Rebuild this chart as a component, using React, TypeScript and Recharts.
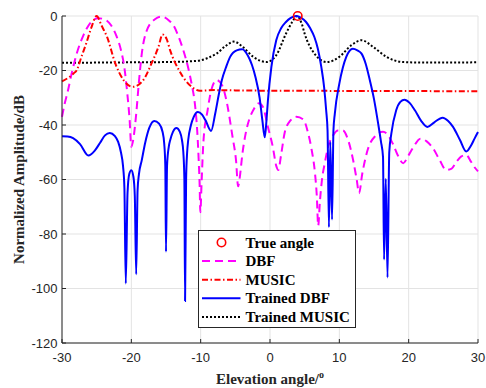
import { ComposedChart, Line, XAxis, YAxis, CartesianGrid, Legend } from 'recharts';

// angles in degrees, values in dB
const xTicks = [-30, -20, -10, 0, 10, 20, 30];
const yTicks = [-120, -100, -80, -60, -40, -20, 0];

const trueAngle = [4];
const trueValue = [0];

const dbfAngles = [-30, -29.6, -29.2, -28.6, -27.9, -26.9, -25.9, -24.8, -23.8, -22.9, -22.2, -21.5, -21, -20.6, -20.25, -20, -19.7, -19.3, -18.9, -18.5, -17.8, -16.6, -15.6, -14.5, -13.9, -13.2, -12.5, -11.8, -11.3, -10.8, -10.5, -10.3, -10.15, -10.05, -9.85, -9.6, -9.0, -8.5, -7.7, -6.9, -6.4, -5.4, -4.9, -4.6, -4.3, -4.0, -3.5, -3.0, -2.3, -1.6, -1.0, -0.3, 0.4, 0.9, 1.2, 1.6, 2.1, 2.9, 3.8, 4.8, 5.5, 6.0, 6.5, 6.75, 6.95, 7.2, 7.5, 7.9, 8.5, 9.1, 9.8, 10.5, 11.2, 12.0, 12.5, 12.85, 13.3, 14.1, 15.2, 16.3, 17.1, 17.7, 18.5, 19.2, 19.9, 20.6, 21.7, 22.6, 23.5, 24.5, 25.4, 26.2, 26.9, 27.6, 28.3, 29, 29.5, 30];
const dbfValues = [-37, -32, -28, -21, -14, -7, -2.5, -0.8, -1.3, -3.5, -7, -12.5, -19, -28, -38, -48, -45, -36, -24, -14, -5.5, -1.2, -0.2, -1.8, -3.5, -7.5, -12.6, -19, -25, -33, -42, -52, -62, -72, -60, -46, -34.6, -27.5, -23.5, -25.5, -29.7, -44.4, -53, -62.5, -58, -51, -43, -38, -34, -32, -33.5, -40.7, -48, -55, -56.5, -51, -43, -38.5, -37, -38, -43, -49, -58, -66, -77, -68, -60, -54, -47, -43.8, -42, -42, -45, -53, -60, -65, -58, -49, -44, -42.5, -44, -46.8, -51.5, -54, -51.5, -48.5, -45, -46, -48.5, -53, -56.5, -56, -53.5, -51.5, -51, -53.5, -55.5, -57];

const musicAngles = [-30, -29, -28.3, -27.9, -27.2, -26.5, -25.8, -25.0, -24.3, -23.5, -22.3, -21.1, -19.8, -18.3, -17.1, -16.1, -15.5, -14.9, -14.4, -13, -11.3, -10.1, -8, -5, 0, 5, 10, 15, 20, 25, 30];
const musicValues = [-24, -22.5, -21, -20, -15, -10, -4.5, 0, -3.5, -7.7, -17.5, -23.6, -26, -23.6, -17.5, -11.4, -6.8, -8.5, -12.6, -20.5, -26, -27.4, -27.2, -27.3, -27.4, -27.4, -27.5, -27.5, -27.5, -27.6, -27.6];

const tdbfAngles = [-30, -29.2, -28.4, -27.4, -26.2, -25.3, -24.5, -23.8, -23.1, -22.4, -21.9, -21.5, -21.2, -21.0, -20.8, -20.55, -20.3, -20.0, -19.7, -19.5, -19.3, -19.1, -18.9, -18.5, -18.0, -17.4, -16.7, -16.0, -15.5, -15.25, -15.1, -15.0, -14.85, -14.6, -14.4, -14, -13.5, -13.0, -12.7, -12.5, -12.35, -12.25, -12.1, -11.95, -11.8, -11.4, -11.0, -10.4, -9.8, -9.3, -8.5, -7.9, -7.4, -6.95, -6.3, -5.75, -4.8, -4.0, -3.2, -2.6, -2.1, -1.5, -1.1, -0.75, -0.5, -0.3, 0.2, 0.9, 1.6, 2.3, 3.0, 3.8, 4.5, 5.2, 5.8, 6.4, 6.9, 7.4, 7.8, 8.1, 8.3, 8.5, 8.7, 8.95, 9.15, 9.35, 10.0, 10.5, 11.0, 11.95, 12.6, 13.2, 13.8, 14.4, 15.0, 15.6, 16.0, 16.3, 16.45, 16.7, 16.95, 17.2, 17.5, 18.2, 18.8, 19.4, 20.1, 20.9, 21.8, 22.7, 23.7, 24.9, 25.7, 26.4, 27.4, 28.3, 29.0, 29.5, 30];
const tdbfValues = [-44.1, -44.2, -44.8, -47, -51.2, -49.5, -46.5, -43.8, -42.9, -44, -46.2, -50, -55, -63, -98.2, -65, -58, -56.6, -59, -66, -94.8, -64, -58, -53, -46.5, -41, -38.5, -39.5, -42.5, -47, -55, -86.5, -55, -48, -45.6, -42.5, -41.1, -42.5, -45.5, -50, -60, -104.6, -60, -50, -45.6, -40, -37, -35.2, -36.2, -38.3, -42.2, -35.8, -29, -23.6, -18.5, -15, -12.6, -12.2, -14.5, -18, -22.4, -30, -38.3, -44.5, -38, -31, -18.7, -8.9, -4.5, -2.2, -0.7, 0, -0.7, -2.2, -4.5, -7.7, -12, -18.7, -26, -34.6, -42, -77.5, -46.2, -74.7, -42, -35.8, -24.8, -19, -15, -12, -12.6, -13.8, -17.5, -23.6, -30.5, -39.5, -46, -51.7, -89.4, -59.7, -96, -50, -43.2, -34.6, -31.5, -30.7, -31.8, -34.6, -38.5, -40.7, -39, -37.3, -38.5, -40.7, -45.5, -49.7, -47.5, -45, -42.6];

const tmusicAngles = [-30, -25, -20, -15, -12, -10.1, -8.8, -7.7, -6.5, -5.2, -3.9, -2.4, -0.5, 0.9, 2.3, 3.2, 3.9, 4.6, 5.0, 6.4, 8.2, 10, 11.7, 13.2, 14.9, 16.8, 19.2, 22.6, 30];
const tmusicValues = [-17.2, -17.1, -17, -16.9, -16.7, -16.3, -15.2, -13.8, -11.2, -9.4, -11.4, -15, -16.9, -14.4, -6.5, -2.2, 0, -3, -6.5, -13.8, -16.9, -15, -10.8, -8.9, -11.4, -15, -16.9, -17.1, -17];

const toPoints = (xs: number[], ys: number[]) => xs.map((x, i) => ({ angle: x, value: ys[i] }));

const AXIS = '#262626';
const TICK_FONT = '"Liberation Sans", Arial, sans-serif';
const SERIF = '"Liberation Serif", "Times New Roman", serif';

const BottomTick = (props: any) => {
  const { x, y, payload } = props;
  return (
    <g>
      <line x1={x} x2={x} y1={y} y2={y - 4} stroke={AXIS} />
      <text x={x} y={y} dy={19} textAnchor="middle" fontSize={13} fill={AXIS} fontFamily={TICK_FONT}>
        {payload.value}
      </text>
    </g>
  );
};

const TopTick = (props: any) => {
  const { x, y } = props;
  return <line x1={x} x2={x} y1={y} y2={y + 4} stroke={AXIS} />;
};

const LeftTick = (props: any) => {
  const { x, y, payload } = props;
  return (
    <g>
      <line x1={x} x2={x + 4} y1={y} y2={y} stroke={AXIS} />
      <text x={x - 4.5} y={y} dy={4.5} textAnchor="end" fontSize={13} fill={AXIS} fontFamily={TICK_FONT}>
        {payload.value}
      </text>
    </g>
  );
};

const RightTick = (props: any) => {
  const { x, y } = props;
  return <line x1={x} x2={x - 4} y1={y} y2={y} stroke={AXIS} />;
};

const YTitle = (props: any) => {
  const { viewBox } = props;
  const cx = 19;
  const cy = viewBox.y + viewBox.height / 2;
  return (
    <text x={cx} y={cy} transform={`rotate(-90, ${cx}, ${cy})`} textAnchor="middle" dominantBaseline="central"
      fontSize={15} fontWeight="bold" fontFamily={SERIF} fill={AXIS}>
      Normalized Amplitude/dB
    </text>
  );
};

const XTitle = (props: any) => {
  const { viewBox } = props;
  const cx = viewBox.x + viewBox.width / 2;
  return (
    <text x={cx} y={384} textAnchor="middle" fontSize={15} fontWeight="bold" fontFamily={SERIF} fill={AXIS}>
      <tspan>Elevation angle/</tspan>
      <tspan dy={-6} fontSize={10}>o</tspan>
    </text>
  );
};

const legendItems = [
  { name: 'True angle', kind: 'marker', color: '#ff0000', dash: '' },
  { name: 'DBF', kind: 'line', color: '#ff00ff', dash: '8 5' },
  { name: 'MUSIC', kind: 'line', color: '#ff0000', dash: '6 2.5 1.5 2.5' },
  { name: 'Trained DBF', kind: 'line', color: '#0000ff', dash: '' },
  { name: 'Trained MUSIC', kind: 'line', color: '#000000', dash: '2 2' },
];

const LegendBox = () => (
  <svg width={158} height={98} style={{ display: 'block' }}>
    <rect x={0.5} y={0.5} width={157} height={97} fill="#fff" stroke={AXIS} />
    {legendItems.map((it, i) => {
      const cy = 12.5 + i * 18.6;
      return (
        <g key={it.name}>
          {it.kind === 'marker' ? (
            <circle cx={23.5} cy={cy} r={4.2} fill="none" stroke={it.color} strokeWidth={1.6} />
          ) : (
            <line x1={4} x2={42.5} y1={cy} y2={cy} stroke={it.color} strokeWidth={2} strokeDasharray={it.dash || undefined} />
          )}
          <text x={47.5} y={cy} dy={5} fontSize={15} fontWeight="bold" fontFamily={SERIF} fill="#000">
            {it.name}
          </text>
        </g>
      );
    })}
  </svg>
);

const MarkerDot = (props: any) => {
  const { cx, cy } = props;
  return <circle cx={cx} cy={cy} r={4.2} fill="none" stroke="#ff0000" strokeWidth={1.6} />;
};

export default function App() {
  return (
    <div style={{ position: 'fixed', left: 0, top: 0, background: '#fff' }}>
      <ComposedChart width={486} height={388} margin={{ top: 16, right: 8, bottom: 15, left: 0 }}>
        <CartesianGrid stroke="#e3e3e3" strokeWidth={1} />
        <XAxis dataKey="angle" type="number" domain={[-30, 30]} ticks={xTicks} height={30}
          tickSize={0} tickMargin={0} tickLine={false} axisLine={{ stroke: AXIS }} tick={<BottomTick />}
          label={<XTitle />} interval={0} />
        <XAxis xAxisId="top" orientation="top" dataKey="angle" type="number" domain={[-30, 30]} ticks={xTicks} height={0}
          tickSize={0} tickMargin={0} tickLine={false} axisLine={{ stroke: AXIS }} tick={<TopTick />} interval={0} />
        <YAxis dataKey="value" type="number" domain={[-120, 0]} ticks={yTicks} width={62}
          tickSize={0} tickMargin={0} tickLine={false} axisLine={{ stroke: AXIS }} tick={<LeftTick />}
          label={<YTitle />} interval={0} />
        <YAxis yAxisId="right" orientation="right" type="number" domain={[-120, 0]} ticks={yTicks} width={0}
          tickSize={0} tickMargin={0} tickLine={false} axisLine={{ stroke: AXIS }} tick={<RightTick />} interval={0} />
        <Line data={toPoints(tmusicAngles, tmusicValues)} dataKey="value" type="monotone" stroke="#000000" strokeWidth={2}
          strokeDasharray="2 2" dot={false} isAnimationActive={false} name="Trained MUSIC" />
        <Line data={toPoints(dbfAngles, dbfValues)} dataKey="value" type="monotone" stroke="#ff00ff" strokeWidth={2}
          strokeDasharray="8 5" dot={false} isAnimationActive={false} name="DBF" />
        <Line data={toPoints(musicAngles, musicValues)} dataKey="value" type="monotone" stroke="#ff0000" strokeWidth={2}
          strokeDasharray="6 2.5 1.5 2.5" dot={false} isAnimationActive={false} name="MUSIC" />
        <Line data={toPoints(tdbfAngles, tdbfValues)} dataKey="value" type="monotone" stroke="#0000ff" strokeWidth={2}
          dot={false} isAnimationActive={false} name="Trained DBF" />
        <Line data={toPoints(trueAngle, trueValue)} dataKey="value" stroke="none" dot={<MarkerDot />}
          isAnimationActive={false} name="True angle" />
        <Legend layout="vertical" align="center" verticalAlign="middle" content={<LegendBox />}
          wrapperStyle={{ left: 198, top: 230, width: 158, height: 98 }} />
      </ComposedChart>
    </div>
  );
}
